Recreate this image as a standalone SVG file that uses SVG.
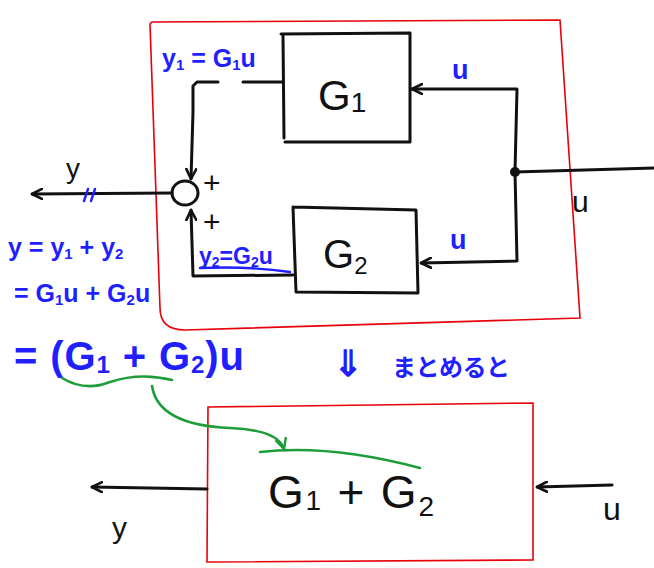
<svg xmlns="http://www.w3.org/2000/svg" width="654" height="568" viewBox="0 0 654 568">
<style>
.k{fill:none;stroke:#111;stroke-width:3;stroke-linecap:round;stroke-linejoin:round}
.r{fill:none;stroke:#e8000b;stroke-width:1.6}
.g{fill:none;stroke:#1f9d3a;stroke-width:2.6;stroke-linecap:round}
.b{fill:none;stroke:#1f1fff;stroke-width:2.4;stroke-linecap:round}
.tb{font-family:"Liberation Sans",Arial,sans-serif;fill:#111}
.tl{font-family:"Liberation Sans",Arial,sans-serif;fill:#1f1fff;font-weight:bold}
.tj{font-family:"Noto Sans CJK JP","Liberation Sans",sans-serif;fill:#1f1fff;font-weight:bold}
</style>
<defs>
<marker id="ah" viewBox="0 0 12 12" refX="11" refY="6" markerWidth="12" markerHeight="12" markerUnits="userSpaceOnUse" orient="auto">
<path d="M1,1 L11,6 L1,11" fill="none" stroke="#111" stroke-width="2.6" stroke-linecap="round" stroke-linejoin="round"/>
</marker>
<marker id="ahg" viewBox="0 0 12 12" refX="11" refY="6" markerWidth="12" markerHeight="12" markerUnits="userSpaceOnUse" orient="auto">
<path d="M1,1 L11,6 L1,11" fill="none" stroke="#1f9d3a" stroke-width="2.4" stroke-linecap="round" stroke-linejoin="round"/>
</marker>
</defs>
<rect width="654" height="568" fill="#fff"/>

<g id="frame-top">
<path class="r" d="M152,22 L560,20 L580,318 L185,330 Q160,330 160,308 L150,24 Z"/>
</g>
<g id="frame-bottom">
<path class="r" d="M208,407 L533,403 L533,560 L207,562 Z"/>
</g>

<g id="G1">
<path class="k" d="M281,34 L410,33 L410,142 L285,142 M283,36 L284,138"/>
<text class="tb" x="318" y="110" font-size="42">G<tspan font-size="28" dy="2">1</tspan></text>
</g>
<g id="G2">
<path class="k" d="M293,207 L416,210 L418,293 L296,292 L293,207"/>
<text class="tb" x="323" y="268" font-size="40">G<tspan font-size="24" dy="6">2</tspan></text>
</g>
<g id="sum">
<ellipse class="k" cx="185" cy="193" rx="13" ry="12"/>
<text class="tb" x="203" y="193" font-size="30">+</text>
<text class="tb" x="203" y="232" font-size="30">+</text>
</g>
<g id="junction">
<circle cx="515" cy="172" r="5" fill="#111"/>
</g>

<g id="connectors">
<path class="k" d="M654,168 L515,172"/>
<path class="k" d="M515,172 L517,89 L412,89" marker-end="url(#ah)"/>
<path class="k" d="M515,172 L517,261 L421,263" marker-end="url(#ah)"/>
<path class="k" d="M283,82 L243,82"/>
<path class="k" d="M218,82 L197,82 L193,86 L193,112 L191,179" marker-end="url(#ah)"/>
<path class="k" d="M293,275 L193,276 L191,210" marker-end="url(#ah)"/>
<path class="k" d="M172,193 L32,194" marker-end="url(#ah)"/>
<path class="k" d="M207,489 L92,487" marker-end="url(#ah)"/>
<path class="k" d="M612,485 L537,487" marker-end="url(#ah)"/>
<path class="g" d="M152,386 Q158,425 230,428 Q278,430 284,449" marker-end="url(#ahg)"/>
</g>

<g id="labels">
<text class="tl" x="162" y="67" font-size="25">y<tspan font-size="15" dy="3">1</tspan><tspan dy="-3"> = G</tspan><tspan font-size="15" dy="3">1</tspan><tspan dy="-3">u</tspan></text>
<text class="tl" x="452" y="79" font-size="27">u</text>
<text class="tl" x="450" y="249" font-size="27">u</text>
<text class="tb" x="572" y="212" font-size="30">u</text>
<text class="tl" x="199" y="264" font-size="23">y<tspan font-size="14" dy="3">2</tspan><tspan dy="-3">=G</tspan><tspan font-size="14" dy="3">2</tspan><tspan dy="-3">u</tspan></text>
<path class="b" d="M200,268 Q250,266 290,272"/>
<text class="tb" x="66" y="178" font-size="28">y</text>
<path class="b" d="M88,189 L84,201 M95,189 L91,201"/>
<text class="tl" x="8" y="256" font-size="25">y = y<tspan font-size="15" dy="3">1</tspan><tspan dy="-3"> + y</tspan><tspan font-size="15" dy="3">2</tspan></text>
<text class="tl" x="14" y="302" font-size="25">= G<tspan font-size="15" dy="3">1</tspan><tspan dy="-3">u + G</tspan><tspan font-size="15" dy="3">2</tspan><tspan dy="-3">u</tspan></text>
<text class="tl" x="14" y="370" font-size="40" textLength="230" lengthAdjust="spacing">= (G<tspan font-size="24" dy="3">1</tspan><tspan dy="-3"> + G</tspan><tspan font-size="24" dy="3">2</tspan><tspan dy="-3">)u</tspan></text>
<path class="g" d="M62,378 Q85,392 110,382 Q140,372 172,380"/>
<text class="tj" x="333" y="376" font-size="24"><tspan font-size="36">⇓</tspan><tspan x="392" textLength="118" lengthAdjust="spacing">まとめると</tspan></text>
<path class="g" d="M260,452 Q330,444 420,468"/>
<text class="tb" x="268" y="508" font-size="46" textLength="166" lengthAdjust="spacing">G<tspan font-size="28" dy="2">1</tspan><tspan dy="-2"> + G</tspan><tspan font-size="28" dy="8">2</tspan></text>
<text class="tb" x="112" y="538" font-size="30">y</text>
<text class="tb" x="603" y="520" font-size="32">u</text>
</g>
</svg>
